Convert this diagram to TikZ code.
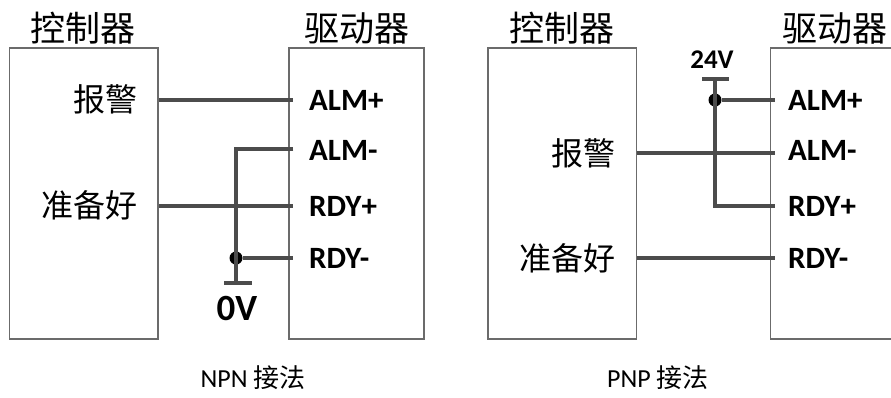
\documentclass[tikz,border=0pt]{standalone}
\usepackage{fontspec}
\setmainfont{Carlito}
\newfontfamily\cjk{Noto Sans CJK SC}
\usetikzlibrary{calc,positioning}
\definecolor{WireClr}{rgb}{0.3,0.3,0.3}
\definecolor{BoxClr}{rgb}{0.42,0.42,0.42}

\begin{document}
\begin{tikzpicture}[x=1pt,y=-1pt,
  unitbox/.style={draw=BoxClr,line width=1.5pt,minimum height=291pt,inner sep=0pt},
  wire/.style={draw=WireClr,line width=3.6pt},
  title/.style={font=\cjk\fontsize{35}{40}\selectfont,inner sep=0pt},
  signal/.style={font=\cjk\fontsize{32}{36}\selectfont,inner sep=0pt,anchor=east},
  pin/.style={font=\bfseries\fontsize{31}{36}\selectfont,inner sep=0pt,anchor=west},
  caption/.style={font=\fontsize{26}{30}\selectfont,inner sep=0pt},
  junction/.style={circle,fill=black,inner sep=0pt,minimum size=13pt}]
\useasboundingbox (0,0) rectangle (891,397);

\node[unitbox,minimum width=148.5pt] (ctrlL) at (83.75,193.5) {};
\node[unitbox,minimum width=135pt] (drvL) at (356.5,193.5) {};
\node[title] (ctrlTitleL) at (83,28) {控制器};
\node[title] (drvTitleL) at (357,28) {驱动器};

\node[signal] (alarmL) at (138,99) {报警};
\node[signal] (readyL) at (138,205) {准备好};
\node[pin] (almpL) at (309,100) {ALM+};
\node[pin] (almmL) at (309,150) {ALM-};
\node[pin] (rdypL) at (309,206) {RDY+};
\node[pin] (rdymL) at (309,258) {RDY-};

\coordinate (topL) at (236,149);
\node[junction] (jL) at (236,258) {};
\coordinate (gndL) at (236,283);
\coordinate (gndLa) at (224,283);
\coordinate (gndLb) at (252,283);
\node[font=\bfseries\fontsize{37}{40}\selectfont,inner sep=0pt] (zeroV) at (237,308) {0V};

\draw[wire] (ctrlL.east |- almpL) -- ([xshift=5pt]drvL.west |- almpL);
\draw[wire] (ctrlL.east |- rdypL) -- ([xshift=5pt]drvL.west |- rdypL);
\draw[wire] ([xshift=5pt]drvL.west |- topL) -- (topL) -- (gndL);
\draw[wire] (jL) -- ([xshift=5pt]drvL.west |- jL);
\draw[wire] (gndLa) -- (gndLb);
\node[caption] (npn) at (253,378) {NPN {\cjk 接法}};

\node[unitbox,minimum width=148.5pt] (ctrlR) at (562,193.5) {};
\node[unitbox,minimum width=135pt] (drvR) at (838,193.5) {};
\node[title] (ctrlTitleR) at (562,28) {控制器};
\node[title] (drvTitleR) at (835,28) {驱动器};

\node[signal] (alarmR) at (616,153) {报警};
\node[signal] (readyR) at (616,258) {准备好};
\node[pin] (almpR) at (788,100) {ALM+};
\node[pin] (almmR) at (788,150) {ALM-};
\node[pin] (rdypR) at (788,206) {RDY+};
\node[pin] (rdymR) at (788,258) {RDY-};

\coordinate (supR) at (715,79);
\coordinate (supRa) at (702,79);
\coordinate (supRb) at (729,79);
\node[junction] (jR) at (715,100) {};
\coordinate (botR) at (715,206);
\node[font=\bfseries\fontsize{27}{30}\selectfont,inner sep=0pt] (tfV) at (712,60) {24V};

\draw[wire] (supRa) -- (supRb);
\draw[wire] (supR) -- (botR) -- ([xshift=5pt]drvR.west |- botR);
\draw[wire] (jR) -- ([xshift=5pt]drvR.west |- jR);
\draw[wire] (ctrlR.east |- 0,153) -- ([xshift=5pt]drvR.west |- 0,153);
\draw[wire] (ctrlR.east |- rdymR) -- ([xshift=5pt]drvR.west |- rdymR);
\node[caption] (pnp) at (658,378) {PNP {\cjk 接法}};

\end{tikzpicture}
\end{document}
